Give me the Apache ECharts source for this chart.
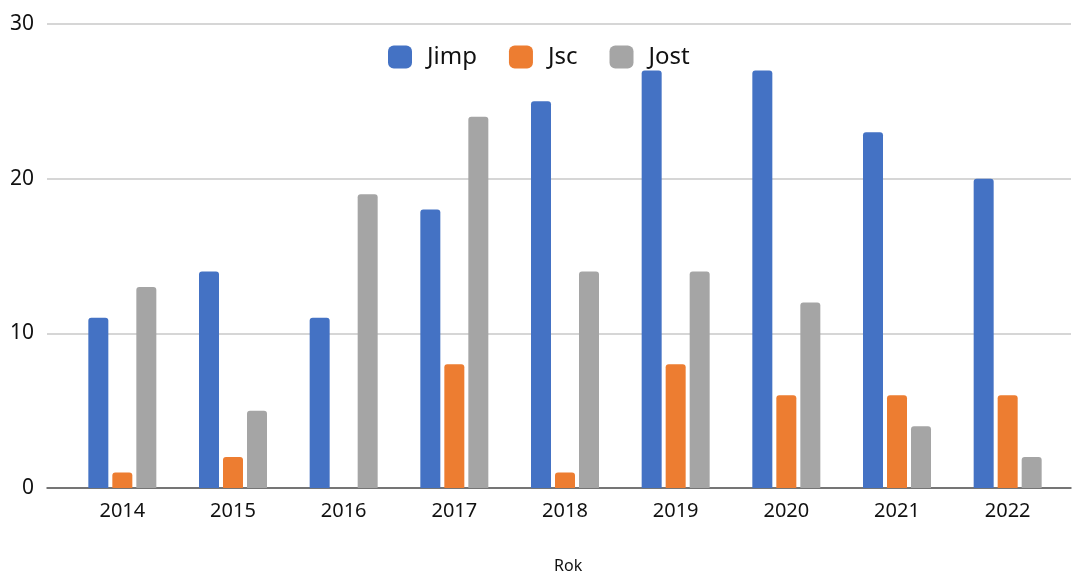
<!DOCTYPE html>
<html>
<head>
<meta charset="utf-8" />
<title>Rok</title>
<script src="https://cdn.jsdelivr.net/npm/echarts@6/dist/echarts.min.js"></script>
<style>
  html, body { margin: 0; padding: 0; background: #fff; }
  #main { width: 1072px; height: 571px; }
</style>
</head>
<body>
<div id="main"></div>
<script>
// data
var years = ['2014', '2015', '2016', '2017', '2018', '2019', '2020', '2021', '2022'];
var jimp = [11, 14, 11, 18, 25, 27, 27, 23, 20];
var jsc  = [1, 2, 0, 8, 1, 8, 6, 6, 6];
var jost = [13, 5, 19, 24, 14, 14, 12, 4, 2];
var seriesNames = ['Jimp', 'Jsc', 'Jost'];
var colors = ['#4472C4', '#ED7D31', '#A5A5A5'];

var font = '"Noto Sans", "Open Sans", sans-serif';
var chart = echarts.init(document.getElementById('main'));

function barSeries(name, data, color) {
  return {
    name: name,
    type: 'bar',
    xAxisIndex: 1,
    yAxisIndex: 1,
    data: data,
    barWidth: 20,
    barGap: '20%',
    itemStyle: { color: color, borderRadius: [3, 3, 0, 0] }
  };
}

chart.setOption({
  animation: false,
  color: colors,
  textStyle: { fontFamily: font },
  title: {
    text: 'Rok',
    left: 549,
    top: 553,
    textStyle: { fontFamily: font, fontSize: 16, fontWeight: 'normal', color: '#111' }
  },
  legend: {
    data: seriesNames,
    left: 388,
    top: 45,
    padding: 0,
    icon: 'roundRect',
    itemWidth: 24,
    itemHeight: 23,
    itemGap: 32,
    textStyle: { fontFamily: font, fontSize: 24, color: '#111', padding: [0, 0, 0, 10] }
  },
  grid: [
    // outer grid: gridlines + axis line over full width
    { left: 47, right: 1, top: 24, bottom: 83 },
    // inner grid: where the categories sit
    { left: 67, width: 996, top: 24, bottom: 83 }
  ],
  xAxis: [
    {
      gridIndex: 0, type: 'value', min: 0, max: 1,
      axisLine: { show: true, lineStyle: { color: '#555', width: 1.5 } },
      axisTick: { show: false }, axisLabel: { show: false }, splitLine: { show: false }
    },
    {
      gridIndex: 1, type: 'category', data: years,
      axisLine: { show: false }, axisTick: { show: false },
      axisLabel: { fontFamily: font, fontSize: 20, color: '#111', margin: 13 }
    }
  ],
  yAxis: [
    {
      gridIndex: 0, type: 'value', min: 0, max: 30, interval: 10,
      axisLine: { show: false }, axisTick: { show: false },
      axisLabel: { fontFamily: font, fontSize: 21, color: '#111', margin: 13 },
      splitLine: { lineStyle: { color: '#d6d6d6', width: 2 } }
    },
    {
      gridIndex: 1, type: 'value', min: 0, max: 30, interval: 10,
      axisLine: { show: false }, axisTick: { show: false },
      axisLabel: { show: false }, splitLine: { show: false }
    }
  ],
  series: [
    barSeries(seriesNames[0], jimp, colors[0]),
    barSeries(seriesNames[1], jsc, colors[1]),
    barSeries(seriesNames[2], jost, colors[2])
  ]
});

window.onresize = function () { chart.resize(); };
</script>
</body>
</html>
